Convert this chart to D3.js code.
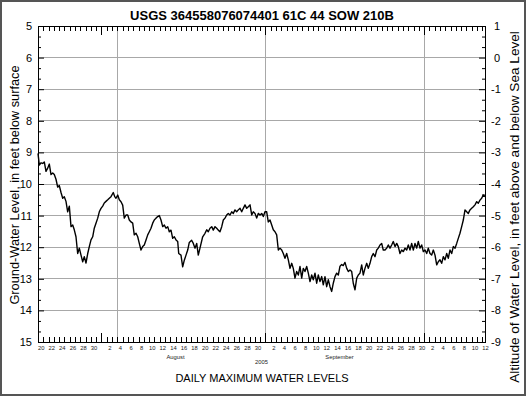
<!DOCTYPE html>
<html>
<head>
<meta charset="utf-8">
<script src="https://cdn.jsdelivr.net/npm/d3@7"></script>
<style>
  html, body { margin: 0; padding: 0; background: #fff; }
  svg { display: block; font-family: "Liberation Sans", Arial, sans-serif; }
</style>
</head>
<body>
<svg id="chart" width="527" height="397"></svg>
<script>
// ---- data ----
const chartTitle = "USGS 364558076074401 61C 44 SOW 210B";
const leftAxisTitle = "Ground-Water Level, in feet below surface";
const rightAxisTitle = "Altitude of Water Level, in feet above and below Sea Level";
const bottomTitle = "DAILY MAXIMUM WATER LEVELS";
const yearLabel = "2005";
const monthLabels = ["August", "September"];
const monthLabelDates = ["2005-08-15", "2005-09-15"];
const startDate = "2005-07-20";
const spanDays = 84.5;
const leftTicks = [5, 6, 7, 8, 9, 10, 11, 12, 13, 14, 15];
const rightTicks = [1, 0, -1, -2, -3, -4, -5, -6, -7, -8, -9];
const landSurfaceAltitude = 6; // altitude = 6 - depth
const gridDates = ["2005-08-04", "2005-09-01", "2005-10-01"];

// days since 2005-07-20 and depth to water (feet below surface)
const dayOffset = [
  0, 0.25, 0.57, 0.89, 1.19, 1.51, 1.83, 2.14, 2.46, 2.78, 3.08, 3.40, 3.72, 4.03, 4.35, 4.67, 4.97, 5.29, 5.61, 5.92,
  6.24, 6.56, 6.86, 7.18, 7.50, 7.81, 8.13, 8.45, 8.75, 9.07, 9.40, 9.70, 10.02, 10.34, 10.64, 10.96, 11.29, 11.59, 11.91, 12.23,
  12.53, 12.85, 13.18, 13.48, 13.80, 14.23, 14.50, 14.74, 15.07, 15.37, 15.69, 16.01, 16.31, 16.64, 16.96, 17.26, 17.58, 17.90, 18.20, 18.53,
  18.85, 19.15, 19.47, 19.79, 20.09, 20.42, 20.74, 21.04, 21.36, 21.68, 21.98, 22.31, 22.63, 22.93, 23.25, 23.57, 23.88, 24.20, 24.52, 24.82,
  25.14, 25.46, 25.77, 26.09, 26.41, 26.60, 27.03, 27.35, 27.66, 27.98, 28.30, 28.60, 29.04, 29.36, 29.68, 30.00, 30.30, 30.62, 31.13, 31.57,
  31.89, 32.19, 32.51, 32.84, 33.14, 33.46, 33.78, 34.08, 34.40, 34.73, 35.03, 35.35, 35.67, 35.97, 36.29, 36.62, 36.92, 37.24, 37.56, 37.86,
  38.19, 38.51, 38.81, 39.13, 39.45, 39.75, 40.08, 40.40, 40.70, 41.02, 41.34, 41.64, 41.97, 42.29, 42.59, 42.91, 43.23, 43.53, 43.86, 44.18,
  44.48, 44.80, 45.12, 45.43, 45.75, 46.07, 46.37, 46.69, 47.01, 47.32, 47.64, 47.96, 48.26, 48.58, 48.90, 49.21, 49.53, 49.85, 50.15, 50.47,
  50.79, 51.10, 51.42, 51.74, 52.04, 52.36, 52.68, 52.99, 53.31, 53.63, 53.93, 54.25, 54.57, 54.88, 55.20, 55.52, 55.82, 56.14, 56.46, 56.77,
  57.09, 57.41, 57.71, 58.03, 58.36, 58.66, 58.98, 59.30, 59.60, 59.92, 60.25, 60.55, 60.87, 61.19, 61.49, 61.81, 62.14, 62.44, 62.76, 63.08,
  63.38, 63.71, 64.03, 64.33, 64.65, 64.97, 65.27, 65.60, 65.92, 66.22, 66.54, 66.86, 67.16, 67.49, 67.81, 68.11, 68.43, 68.75, 69.06, 69.38,
  69.70, 70.00, 70.32, 70.64, 70.95, 71.27, 71.59, 71.89, 72.21, 72.53, 72.84, 73.16, 73.48, 73.78, 74.10, 74.42, 74.73, 75.05, 75.37, 75.67,
  75.99, 76.31, 76.62, 76.94, 77.26, 77.56, 77.88, 78.20, 78.51, 78.83, 79.15, 79.45, 79.77, 80.09, 80.40, 80.72, 81.04, 81.34, 81.66, 81.98,
  82.29, 82.61, 82.93, 83.23, 83.55, 83.87, 84.17, 84.50
];
const depthFeet = [
  9.03, 9.40, 9.33, 9.35, 9.30, 9.60, 9.50, 9.37, 9.70, 9.65, 9.70, 9.85, 10.10, 10.05, 10.27, 10.45, 10.40, 10.55, 10.88, 10.70,
  11.35, 11.30, 11.45, 11.67, 12.20, 12.03, 12.25, 12.46, 12.30, 12.50, 12.20, 11.98, 11.77, 11.67, 11.40, 11.24, 11.08, 10.88, 10.77, 10.70,
  10.60, 10.55, 10.50, 10.45, 10.40, 10.27, 10.40, 10.45, 10.35, 10.50, 10.56, 10.67, 11.08, 10.98, 10.98, 11.14, 11.20, 11.24, 11.61, 11.56,
  11.67, 11.88, 12.09, 11.98, 11.93, 11.77, 11.61, 11.51, 11.40, 11.24, 11.14, 11.08, 11.03, 11.00, 11.14, 11.35, 11.30, 11.40, 11.35, 11.51,
  11.46, 11.72, 11.67, 11.77, 11.82, 12.20, 12.25, 12.62, 12.41, 12.25, 12.09, 11.85, 11.78, 11.88, 12.03, 11.88, 12.25, 12.03, 11.67, 11.56,
  11.45, 11.51, 11.40, 11.35, 11.46, 11.35, 11.40, 11.46, 11.51, 11.35, 11.14, 11.08, 10.98, 10.93, 10.98, 10.88, 10.93, 10.82, 10.88, 10.82,
  10.77, 10.88, 10.77, 10.66, 10.77, 10.72, 10.66, 10.98, 10.88, 10.93, 11.08, 10.93, 10.98, 10.93, 11.03, 10.88, 10.88, 11.20, 11.14, 11.30,
  11.45, 11.51, 11.61, 12.09, 12.03, 12.09, 12.20, 12.35, 12.20, 12.40, 12.67, 12.51, 12.67, 12.98, 12.77, 12.88, 12.61, 12.98, 12.67, 12.77,
  12.61, 12.82, 13.09, 12.88, 13.03, 12.82, 13.14, 12.88, 13.09, 12.93, 13.19, 12.93, 13.25, 13.03, 13.25, 13.40, 13.14, 12.93, 12.82, 12.88,
  12.60, 12.55, 12.58, 12.48, 12.67, 12.77, 12.72, 12.77, 13.14, 13.35, 12.98, 12.88, 12.82, 12.56, 12.88, 12.67, 12.51, 12.67, 12.51, 12.30,
  12.20, 12.30, 12.09, 12.03, 11.93, 11.88, 12.09, 12.09, 12.03, 11.93, 12.03, 11.93, 11.82, 11.98, 11.88, 11.98, 12.20, 12.09, 12.14, 12.03,
  12.09, 11.93, 12.09, 11.88, 12.09, 11.88, 12.03, 11.82, 12.03, 11.93, 12.14, 12.09, 12.20, 12.03, 12.20, 12.25, 12.09, 12.25, 12.56, 12.46,
  12.40, 12.51, 12.30, 12.40, 12.20, 12.35, 12.09, 12.20, 11.98, 12.03, 11.88, 11.72, 11.56, 11.35, 11.14, 10.82, 10.88, 10.93, 10.82, 10.77,
  10.72, 10.66, 10.56, 10.61, 10.51, 10.45, 10.35, 10.40
];

// ---- chart ----
const svg = d3.select("#chart");
const M = { left: 38, right: 485, top: 26, bottom: 342 };
const parse = d3.timeParse("%Y-%m-%d");
const t0 = parse(startDate);
const t1 = new Date(t0.getTime() + spanDays * 864e5);
const toDate = d => new Date(t0.getTime() + d * 864e5);

const x = d3.scaleTime().domain([t0, t1]).range([M.left, M.right]);
const y = d3.scaleLinear().domain([5, 15]).range([M.top, M.bottom]);
const yR = d3.scaleLinear().domain([landSurfaceAltitude - 5, landSurfaceAltitude - 15]).range([M.top, M.bottom]);

// outer frame
svg.append("rect").attr("x", 1).attr("y", 1).attr("width", 524).attr("height", 394)
  .attr("fill", "#fff").attr("stroke", "#555").attr("stroke-width", 2);

// grid
const grid = svg.append("g").attr("stroke", "#a8a8a8").attr("stroke-width", 1).attr("shape-rendering", "crispEdges");
leftTicks.slice(1, -1).forEach(v => {
  grid.append("line").attr("x1", M.left).attr("x2", M.right).attr("y1", y(v)).attr("y2", y(v));
});
gridDates.forEach(s => {
  const gx = x(parse(s));
  grid.append("line").attr("x1", gx).attr("x2", gx).attr("y1", M.top).attr("y2", M.bottom);
});

// data line
const series = dayOffset.map((d, i) => ({ t: toDate(d), v: depthFeet[i] }));
svg.append("path").datum(series)
  .attr("fill", "none").attr("stroke", "#000").attr("stroke-width", 1.4).attr("stroke-linejoin", "round")
  .attr("d", d3.line().x(d => x(d.t)).y(d => y(d.v)));

// frame
svg.append("rect").attr("x", M.left).attr("y", M.top).attr("width", M.right - M.left).attr("height", M.bottom - M.top)
  .attr("fill", "none").attr("stroke", "#000").attr("stroke-width", 1).attr("shape-rendering", "crispEdges");

// day ticks
const days = d3.timeDay.range(t0, d3.timeDay.offset(t1, 0));
const isMonth = d => d.getDate() === 1;

const bottomAxis = svg.append("g").attr("transform", `translate(0,${M.bottom})`)
  .call(d3.axisBottom(x).tickValues(days).tickSizeInner(-5).tickSizeOuter(0).tickPadding(4)
    .tickFormat(d => (d.getDate() % 2 === 0 ? d.getDate() : "")));
bottomAxis.select(".domain").remove();
bottomAxis.selectAll(".tick line").attr("y2", d => isMonth(d) ? -9 : -5).attr("shape-rendering", "crispEdges");
bottomAxis.selectAll(".tick text").attr("dx", x(d3.timeHour.offset(t0, 12)) - x(t0))
  .attr("font-size", 5.8).attr("fill", "#222").attr("font-family", "Liberation Sans, Arial, sans-serif");

const topAxis = svg.append("g").attr("transform", `translate(0,${M.top})`)
  .call(d3.axisTop(x).tickValues(days).tickSizeInner(-5).tickSizeOuter(0).tickFormat(""));
topAxis.select(".domain").remove();
topAxis.selectAll(".tick line").attr("y2", d => isMonth(d) ? 9 : 5).attr("shape-rendering", "crispEdges");

// y ticks
const minorY = d3.range(5, 15.001, 1 / 3).filter(v => Math.abs(v - Math.round(v)) > 0.01);
const leftAxis = svg.append("g").attr("transform", `translate(${M.left},0)`)
  .call(d3.axisLeft(y).tickValues(leftTicks).tickSizeInner(-6).tickSizeOuter(0).tickPadding(6).tickFormat(d3.format("d")));
leftAxis.select(".domain").remove();
leftAxis.selectAll(".tick text").attr("font-size", 11).attr("fill", "#000").attr("font-family", "Liberation Sans, Arial, sans-serif");
const leftMinor = svg.append("g").attr("transform", `translate(${M.left},0)`)
  .call(d3.axisLeft(y).tickValues(minorY).tickSizeInner(-3).tickSizeOuter(0).tickFormat(""));
leftMinor.select(".domain").remove();

const rightAxis = svg.append("g").attr("transform", `translate(${M.right},0)`)
  .call(d3.axisRight(yR).tickValues(rightTicks).tickSizeInner(-6).tickSizeOuter(0).tickPadding(6).tickFormat(d3.format("d")));
rightAxis.select(".domain").remove();
rightAxis.selectAll(".tick text").attr("font-size", 11).attr("fill", "#000").attr("font-family", "Liberation Sans, Arial, sans-serif")
  .attr("dx", d => d >= 0 ? 3 : 0)
  .text(d => d < 0 ? "-" + Math.abs(d) : d);
const rightMinor = svg.append("g").attr("transform", `translate(${M.right},0)`)
  .call(d3.axisRight(y).tickValues(minorY).tickSizeInner(-3).tickSizeOuter(0).tickFormat(""));
rightMinor.select(".domain").remove();

svg.selectAll(".tick line").attr("stroke", "#000");

// texts
svg.append("text").attr("x", 262).attr("y", 19.5).attr("text-anchor", "middle")
  .attr("font-size", 13).attr("font-weight", "bold").text(chartTitle);

svg.append("text").attr("transform", `translate(19,185) rotate(-90)`)
  .attr("text-anchor", "middle").attr("font-size", 12.8).text(leftAxisTitle);

svg.append("text").attr("transform", `translate(519,207) rotate(-90)`)
  .attr("text-anchor", "middle").attr("font-size", 13.6).text(rightAxisTitle);

monthLabels.forEach((m, i) => {
  svg.append("text").attr("x", x(parse(monthLabelDates[i]))).attr("y", 359)
    .attr("text-anchor", "middle").attr("font-size", 5.8).attr("fill", "#222").text(m);
});
svg.append("text").attr("x", (M.left + M.right) / 2).attr("y", 364)
  .attr("text-anchor", "middle").attr("font-size", 5.8).attr("fill", "#222").text(yearLabel);

svg.append("text").attr("x", 262).attr("y", 382).attr("text-anchor", "middle")
  .attr("font-size", 11).text(bottomTitle);
</script>
</body>
</html>
